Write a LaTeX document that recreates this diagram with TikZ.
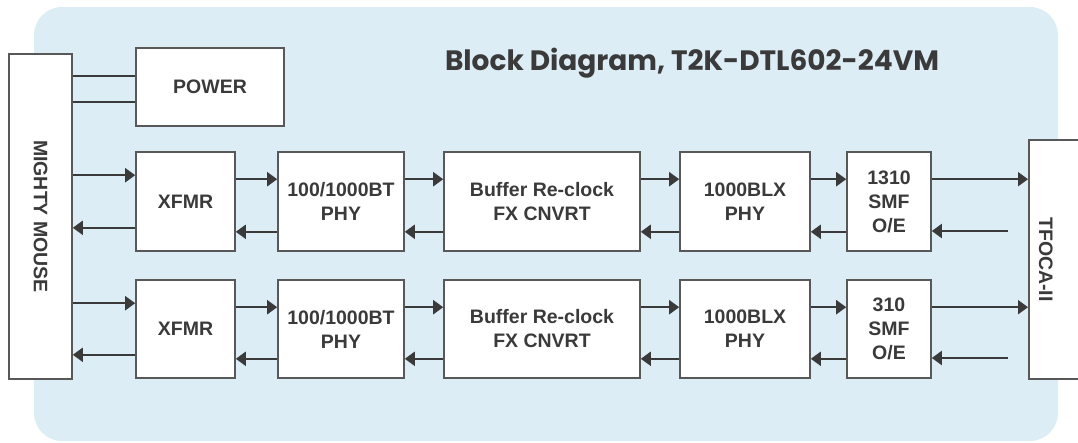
\documentclass[tikz,border=0pt]{standalone}
\usepackage{fontspec}
\setmainfont{Liberation Sans}
\newfontfamily\titlefont{Poppins}
\usepackage{tikz}
\usetikzlibrary{arrows.meta}
\definecolor{panel}{RGB}{221,237,246}
\definecolor{ink}{RGB}{58,58,58}

\begin{document}
\begin{tikzpicture}[x=1pt, y=-1pt,
        blk/.style={draw=ink!85, line width=1.6pt, fill=white, align=center, inner sep=0pt,
            text=ink, font=\fontsize{19.5}{24}\selectfont\bfseries},
        arr/.style={draw=ink, line width=2pt, -{Triangle[length=10pt,width=14pt]}},
        wire/.style={draw=ink, line width=2pt}]
            \useasboundingbox (0,0) rectangle (1078,442);
            \clip (0,0) rectangle (1078,442);
            \fill[panel, rounded corners=28pt] (34,7) rectangle (1058,441);
            \node[text=ink, anchor=base, font=\titlefont\bfseries\fontsize{28}{32}\selectfont] (title) at (692,70) {Block Diagram, T2K-DTL602-24VM};
            \node[blk, minimum width=63, minimum height=325] (mouse) at (40.5,216.5) {\rotatebox{-90}{MIGHTY MOUSE}};
            \node[blk, minimum width=148, minimum height=78] (power) at (210,87) {POWER};
            \node[blk, minimum width=72, minimum height=239, anchor=west] (tfoca) at (1028,259.5) {\hspace*{-38pt}\rotatebox{-90}{TFOCA-II}};
            \node[blk, minimum width=99, minimum height=99] (xfmrA) at (185.5,201.5) {XFMR};
            \node[blk, minimum width=126, minimum height=99] (phyA) at (341,201.5) {100/1000BT\\PHY};
            \node[blk, minimum width=196, minimum height=99] (bufA) at (542,201.5) {Buffer Re-clock\\FX CNVRT};
            \node[blk, minimum width=130, minimum height=99] (blxA) at (745,201.5) {1000BLX\\PHY};
            \node[blk, minimum width=84, minimum height=99] (smfA) at (889,201.5) {1310\\SMF\\O/E};
            \node[blk, minimum width=99, minimum height=98] (xfmrB) at (185.5,329) {XFMR};
            \node[blk, minimum width=126, minimum height=98] (phyB) at (341,329) {100/1000BT\\PHY};
            \node[blk, minimum width=196, minimum height=98] (bufB) at (542,329) {Buffer Re-clock\\FX CNVRT};
            \node[blk, minimum width=130, minimum height=98] (blxB) at (745,329) {1000BLX\\PHY};
            \node[blk, minimum width=84, minimum height=98] (smfB) at (889,329) {310\\SMF\\O/E};
            \path ([yshift=-29pt]power.north west) coordinate (pw1);
            \path ([yshift=25pt]power.south west) coordinate (pw2);
            \draw[wire] (mouse.east |- pw1) -- (pw1);
            \draw[wire] (mouse.east |- pw2) -- (pw2);
            \path ([yshift=-24pt]xfmrA.north west) coordinate (mA1);
            \path ([yshift=24pt]xfmrA.south west) coordinate (mA2);
            \path ([yshift=-24pt]xfmrB.north west) coordinate (mB1);
            \path ([yshift=24pt]xfmrB.south west) coordinate (mB2);
            \draw[arr] (mouse.east |- mA1) -- (mA1);
            \draw[arr] (mA2) -- (mouse.east |- mA2);
            \draw[arr] (mouse.east |- mB1) -- (mB1);
            \draw[arr] (mB2) -- (mouse.east |- mB2);
            \draw[arr] ([yshift=-28pt]xfmrA.north east) -- ([yshift=-28pt]phyA.north west);
            \draw[arr] ([yshift=-28pt]phyA.north east) -- ([yshift=-28pt]bufA.north west);
            \draw[arr] ([yshift=-28pt]bufA.north east) -- ([yshift=-28pt]blxA.north west);
            \draw[arr] ([yshift=-28pt]blxA.north east) -- ([yshift=-28pt]smfA.north west);
            \draw[arr] ([yshift=20pt]phyA.south west) -- ([yshift=20pt]xfmrA.south east);
            \draw[arr] ([yshift=20pt]bufA.south west) -- ([yshift=20pt]phyA.south east);
            \draw[arr] ([yshift=20pt]blxA.south west) -- ([yshift=20pt]bufA.south east);
            \draw[arr] ([yshift=20pt]smfA.south west) -- ([yshift=20pt]blxA.south east);
            \draw[arr] ([yshift=-28pt]xfmrB.north east) -- ([yshift=-28pt]phyB.north west);
            \draw[arr] ([yshift=-28pt]phyB.north east) -- ([yshift=-28pt]bufB.north west);
            \draw[arr] ([yshift=-28pt]bufB.north east) -- ([yshift=-28pt]blxB.north west);
            \draw[arr] ([yshift=-28pt]blxB.north east) -- ([yshift=-28pt]smfB.north west);
            \draw[arr] ([yshift=20pt]phyB.south west) -- ([yshift=20pt]xfmrB.south east);
            \draw[arr] ([yshift=20pt]bufB.south west) -- ([yshift=20pt]phyB.south east);
            \draw[arr] ([yshift=20pt]blxB.south west) -- ([yshift=20pt]bufB.south east);
            \draw[arr] ([yshift=20pt]smfB.south west) -- ([yshift=20pt]blxB.south east);
            \path ([yshift=-28pt]smfA.north east) coordinate (oA);
            \path ([yshift=-28pt]smfB.north east) coordinate (oB);
            \draw[arr] (oA) -- (tfoca.west |- oA);
            \draw[arr] (oB) -- (tfoca.west |- oB);
            \coordinate (iA) at (1008,231);
            \coordinate (iB) at (1008,358);
            \draw[arr] (iA) -- (smfA.east |- iA);
            \draw[arr] (iB) -- (smfB.east |- iB);
        \end{tikzpicture}
\end{document}
